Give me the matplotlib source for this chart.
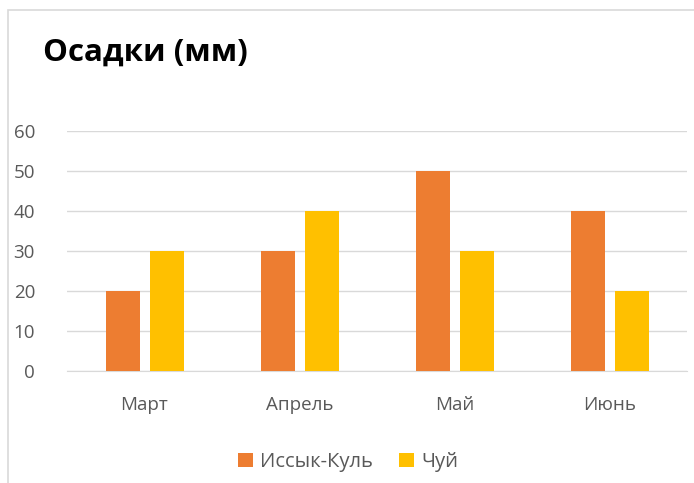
import matplotlib

matplotlib.use("Agg")
import matplotlib.pyplot as plt
import numpy as np
from matplotlib.patches import Rectangle

months = ["Март", "Апрель", "Май", "Июнь"]
issyk_kul = [20, 30, 50, 40]
chui = [30, 40, 30, 20]
series_names = ["Иссык-Куль", "Чуй"]
y_ticks = [0, 10, 20, 30, 40, 50, 60]

ORANGE = "#ED7D31"
YELLOW = "#FFC000"
GRID = "#D9D9D9"
LABEL = "#595959"

plt.rcParams["font.family"] = ["Open Sans", "DejaVu Sans"]

W, H = 694, 483
fig = plt.figure(figsize=(W / 100, H / 100), dpi=100)

# chart frame, cut off at right and bottom as in the source
fig.patches.append(Rectangle((8 / W, -0.1), 1.2, (H - 10) / H + 0.1,
                             transform=fig.transFigure, fill=False,
                             edgecolor="#D9D9D9", linewidth=1.2))

ax = fig.add_axes([67 / W, (H - 371) / H, 620 / W, 240 / H])
x = np.arange(len(months))
bw = 34 / 155
gap = 10 / 155
ax.bar(x - (bw + gap) / 2, issyk_kul, bw, color=ORANGE, label=series_names[0], zorder=3)
ax.bar(x + (bw + gap) / 2, chui, bw, color=YELLOW, label=series_names[1], zorder=3)

ax.set_xlim(-0.5, len(months) - 0.5)
ax.set_ylim(0, 60)
ax.set_yticks(y_ticks)
ax.set_xticks(x)
ax.set_xticklabels(months)
ax.grid(True, axis="y", color=GRID, linewidth=1.0, zorder=0)
for s in ["top", "right", "left"]:
    ax.spines[s].set_visible(False)
ax.spines["bottom"].set_color(GRID)
ax.tick_params(axis="both", length=0, labelsize=13.5, colors=LABEL)
ax.tick_params(axis="y", pad=23)
ax.tick_params(axis="x", pad=18)

fig.text(43 / W, 1 - 53 / H, "Осадки (мм)", fontsize=22.5, fontweight="bold",
         color="black", va="center", ha="left")

fig.legend(loc="center", bbox_to_anchor=(348 / W, 1 - 462 / H), ncol=2,
           frameon=False, fontsize=14.5, labelcolor=LABEL, handlelength=0.75,
           handleheight=0.75, handletextpad=0.35, columnspacing=1.3)

fig.savefig("out.png", dpi=100)
